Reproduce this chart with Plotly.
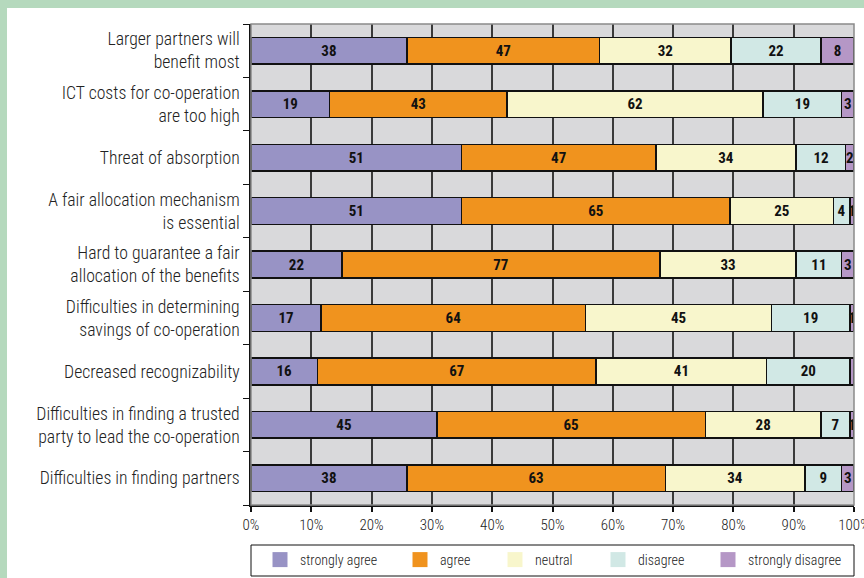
import plotly.graph_objects as go

categories = [
    "Larger partners will<br>benefit most",
    "ICT costs for co-operation<br>are too high",
    "Threat of absorption",
    "A fair allocation mechanism<br>is essential",
    "Hard to guarantee a fair<br>allocation of the benefits",
    "Difficulties in determining<br>savings of co-operation",
    "Decreased recognizability",
    "Difficulties in finding a trusted<br>party to lead the co-operation",
    "Difficulties in finding partners",
]
series_names = ["strongly agree", "agree", "neutral", "disagree", "strongly disagree"]
strongly_agree = [38, 19, 51, 51, 22, 17, 16, 45, 38]
agree = [47, 43, 47, 65, 77, 64, 67, 65, 63]
neutral = [32, 62, 34, 25, 33, 45, 41, 28, 34]
disagree = [22, 19, 12, 4, 11, 19, 20, 7, 9]
strongly_disagree = [8, 3, 2, 1, 3, 1, 1, 1, 3]
tick_vals = [0, 10, 20, 30, 40, 50, 60, 70, 80, 90, 100]
tick_text = ["0%", "10%", "20%", "30%", "40%", "50%", "60%", "70%", "80%", "90%", "100%"]

colors = ["#9893c5", "#f0931e", "#f8f6cc", "#d1e8e5", "#b597c6"]
series = [strongly_agree, agree, neutral, disagree, strongly_disagree]

FONT = "Roboto Condensed, Liberation Sans Narrow, sans-serif"

L, R, T, B = 251, 10, 24, 73
W, H = 864, 578
pw, ph = W - L - R, H - T - B

def px_x(x):
    return (x - L) / pw

def px_y(y):
    return 1 - (y - T) / ph

legend_px = [260, 400, 495, 598, 708]

fig = go.Figure()
for name, vals, col in zip(series_names, series, colors):
    fig.add_trace(go.Bar(
        y=categories, x=vals, name=name, orientation="h", showlegend=False,
        marker=dict(color=col, line=dict(color="#111111", width=1.5)),
        text=[str(v) for v in vals], textposition="inside",
        insidetextanchor="middle", textangle=0, constraintext="none",
        textfont=dict(family=FONT, size=15, color="#111111", weight="bold"),
        cliponaxis=False,
    ))

legend_layouts = {}
for i, (name, col) in enumerate(zip(series_names, colors)):
    key = "legend" if i == 0 else f"legend{i + 1}"
    fig.add_trace(go.Scatter(
        x=[None], y=[None], mode="markers", name=name, showlegend=True, legend=key,
        marker=dict(symbol="square", size=15, color=col, line=dict(width=0)),
    ))
    legend_layouts[key] = dict(
        orientation="h", x=px_x(legend_px[i]), xanchor="left",
        y=px_y(560), yanchor="middle", bgcolor="rgba(0,0,0,0)", borderwidth=0,
        font=dict(family=FONT, size=14, color="#222222", weight=300),
        itemsizing="trace", itemwidth=30,
    )

shapes = [
    dict(type="rect", xref="paper", yref="paper", x0=px_x(0), x1=px_x(7), y0=px_y(W), y1=px_y(0),
         fillcolor="#b5d9bd", line=dict(width=0), layer="below"),
    dict(type="rect", xref="paper", yref="paper", x0=px_x(0), x1=px_x(W), y0=px_y(8), y1=px_y(0),
         fillcolor="#b5d9bd", line=dict(width=0), layer="below"),
    dict(type="rect", xref="paper", yref="paper", x0=0, x1=1, y0=0, y1=1,
         line=dict(color="#8a8a8a", width=1.5), layer="above"),
    dict(type="rect", xref="paper", yref="paper", x0=0, x1=1, y0=px_y(576), y1=px_y(545),
         line=dict(color="#111111", width=1), fillcolor="white", layer="below"),
]

fig.update_layout(
    barmode="stack", barnorm="percent", bargap=0.5,
    width=W, height=H,
    margin=dict(l=L, r=R, t=T, b=B, autoexpand=False),
    paper_bgcolor="white", plot_bgcolor="#d9d9db",
    font=dict(family=FONT, size=17.7, color="#222222"),
    shapes=shapes,
    uniformtext=dict(minsize=15, mode="show"),
    showlegend=True,
    xaxis=dict(range=[0, 100], tickvals=tick_vals, ticktext=tick_text,
               showgrid=True, gridcolor="#3a3a3a", gridwidth=1.5,
               showline=True, linecolor="#111111", linewidth=1.5,
               ticks="outside", ticklen=5, tickcolor="#111111", tickwidth=1.5,
               ticklabeloverflow="allow",
               tickfont=dict(family=FONT, size=15, color="#222222", weight=300), zeroline=False),
    yaxis=dict(categoryorder="array", categoryarray=categories[::-1],
               showline=True, linecolor="#111111", linewidth=1.5,
               ticks="outside", tickson="boundaries", ticklen=6, tickcolor="#111111",
               tickwidth=1, showgrid=False, ticklabelstandoff=6,
               tickfont=dict(family=FONT, size=17.7, color="#222222", weight=300)),
    **legend_layouts,
)

fig.write_html("out.html")
